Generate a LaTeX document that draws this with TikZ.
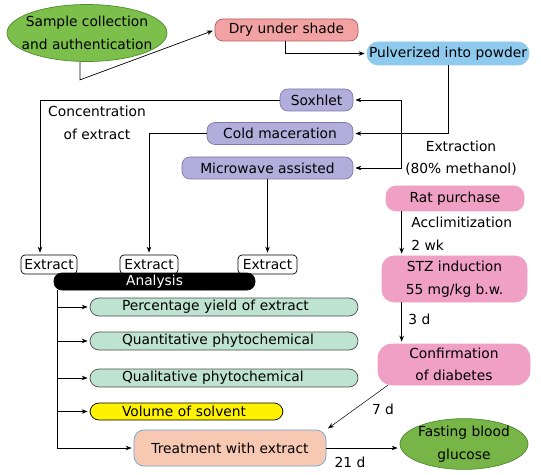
\documentclass[tikz,border=0pt]{standalone}
\usepackage{fontspec}
\setmainfont{DejaVu Sans}
\usepackage{xcolor}
\usetikzlibrary{shapes,
	arrows.meta,
	calc,
	positioning}
\definecolor{leafgreen}{HTML}{7CBF4A}
\definecolor{leafedge}{HTML}{4E8A2E}
\definecolor{drypink}{HTML}{F2A2A2}
\definecolor{dryedge}{HTML}{B35C5C}
\definecolor{powderblue}{HTML}{8DCAEE}
\definecolor{lavender}{HTML}{B3ADDB}
\definecolor{lavedge}{HTML}{7F78AE}
\definecolor{mint}{HTML}{BEE3D1}
\definecolor{solvyellow}{HTML}{FFF200}
\definecolor{peach}{HTML}{F8C9B2}
\definecolor{peachedge}{HTML}{6A9FD0}
\definecolor{ratpink}{HTML}{F0A0C4}
\tikzstyle{oval}=[ellipse, draw=leafedge, fill=leafgreen, inner sep=0, align=center]
\tikzstyle{rbox}=[draw, rounded corners=8bp, inner sep=0, align=center]
\tikzstyle{lav}=[rbox, draw=lavedge, fill=lavender, minimum height=22bp]
\tikzstyle{rat}=[rbox, draw=ratpink, fill=ratpink]
\tikzstyle{pill}=[rbox, draw=black!70, fill=mint, rounded corners=9bp,
		minimum height=18bp, align=left]
\tikzstyle{ext}=[rbox, draw=black, fill=white, rounded corners=4bp,
		minimum width=56bp, minimum height=19bp]
\tikzstyle{lab}=[inner sep=0, align=center]
\tikzstyle{arr}=[-{Stealth[length=6bp,width=4.5bp]}, shorten >=2bp]

\begin{document}
\begin{tikzpicture}[x=1bp, y=-1bp, line width=0.7bp,
		font=\fontsize{13.8bp}{22.5bp}\selectfont]
\useasboundingbox (0,0) rectangle (541,475);

% plant material
\node[oval, minimum width=160bp, minimum height=57bp] (sample) at (87,33)
	{\makebox[0pt]{Sample collection}\\\makebox[0pt]{and authentication}};
\node[rbox, draw=dryedge, fill=drypink, minimum width=143bp, minimum height=22bp] (dry) at (286.5,30) {Dry under shade};
\node[rbox, draw=powderblue, fill=powderblue, rounded corners=11bp, minimum width=162bp, minimum height=23bp] (pulv) at (448,53.5) {Pulverized into powder};

% extraction methods
\node[lav, minimum width=73bp] (soxhlet) at (316.5,100) {Soxhlet};
\node[lav, minimum width=146bp] (cold) at (280,133.5) {Cold maceration};
\node[lav, minimum width=171bp] (micro) at (267.5,168) {Microwave assisted};
\coordinate (brk) at (401,100);

\node[lab] (conctxt) at (97,123) {Concentration\\of extract};
\node[lab] (extrtxt) at (461,158) {Extraction\\(80\% methanol)};

% extracts and analysis
\node[ext] (ext1) at (49,264.5) {Extract};
\node[ext, minimum width=58bp] (ext2) at (149,264.5) {Extract};
\node[ext, minimum width=59bp] (ext3) at (267.5,264.5) {Extract};
\node[rbox, fill=black, text=white, minimum width=201bp, minimum height=17bp] (analysis) at (154.5,281.5) {Analysis};

\node[pill, minimum width=268bp, text width=204bp] (pct) at (224,307) {Percentage yield of extract};
\node[pill, minimum width=268bp, text width=204bp] (quant) at (224,341) {Quantitative phytochemical};
\node[pill, minimum width=268bp, text width=204bp] (qual) at (224,378) {Qualitative phytochemical};
\node[pill, fill=solvyellow, draw=black, minimum width=193bp, minimum height=17bp, text width=129bp] (vol) at (186.5,411.5) {Volume of solvent};

\node[rbox, draw=peachedge, fill=peach, rounded corners=10bp, minimum width=192bp, minimum height=36bp] (treat) at (230,448) {Treatment with extract};

% animal model
\node[rat, rounded corners=10bp, minimum width=138bp, minimum height=25bp] (rat) at (455,198.5) {Rat purchase};
\node[rat, rounded corners=12bp, minimum width=145bp, minimum height=46bp] (stz) at (454.5,279) {STZ induction\\55 mg/kg b.w.};
\node[rat, rounded corners=14bp, minimum width=152bp, minimum height=41bp] (conf) at (454,364.5) {Confirmation\\of diabetes};
\node[oval, fill=leafgreen!95!black, minimum width=128bp, minimum height=46bp] (fast) at (464,444)
	{\makebox[0pt]{Fasting blood}\\\makebox[0pt]{glucose}};

\node[lab, anchor=west] (accl) at (411,222) {Acclimitization};
\node[lab, anchor=west] (wk) at (411,245) {2 wk};
\node[lab, anchor=west] (d3) at (408,319) {3 d};
\node[lab] (d7) at (383,409) {7 d};
\node[lab] (d21) at (350,462) {21 d};

% connectors
\draw[arr] ([xshift=-7bp]sample.south) -- ++(0,18) -- (dry.west);
\draw[arr] ([xshift=-1bp]dry.south) |- (pulv.west);
\draw[arr] (pulv.south) |- (cold.east);
\draw[{Stealth[length=6bp,width=4.5bp]}-{Stealth[length=6bp,width=4.5bp]}, shorten <=2bp, shorten >=2bp]
	(soxhlet.east) -- (soxhlet.east -| brk) -- (micro.east -| brk) -- (micro.east);
\draw[arr] (soxhlet.west) -| ([xshift=-9bp]ext1.north);
\draw[arr] (cold.west) -| (ext2.north);
\draw[arr] (micro.south) -- (micro.south |- ext3.north);

\coordinate (trunk) at ([xshift=4bp]analysis.south west);
\draw[arr] (trunk) |- (treat.west);
\foreach \n in {pct,quant,qual,vol}
	\draw[arr] (trunk |- \n.west) -- (\n.west);

\draw[arr] ([xshift=16bp]rat.south west) -- ([xshift=16bp]rat.south west |- stz.north);
\draw[arr] ([xshift=20bp]stz.south west) -- ([xshift=20bp]stz.south west |- conf.north);
\draw[arr, line width=0.5bp] ([xshift=10bp]conf.south west) -- (treat.north east);
\draw[arr] (treat.east) -- (treat.east -| fast.west);
\end{tikzpicture}
\end{document}
